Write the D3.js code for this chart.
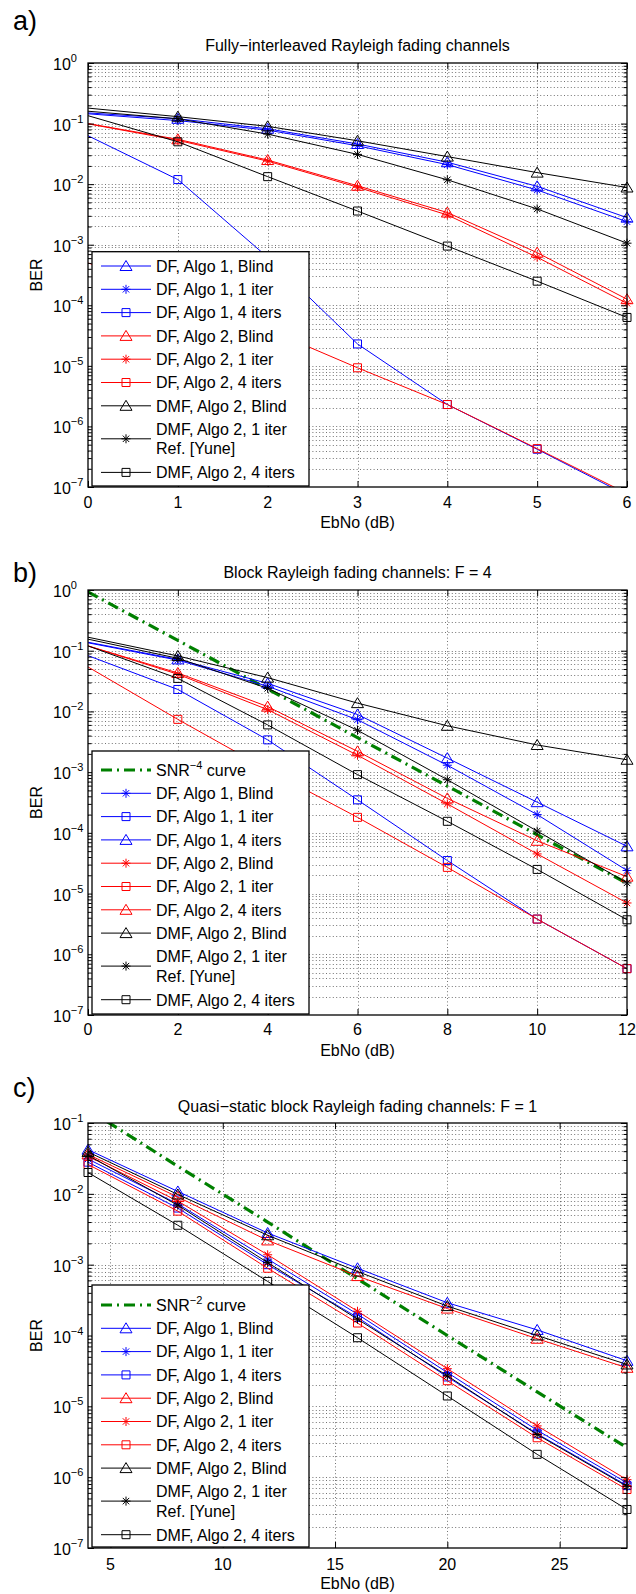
<!DOCTYPE html>
<html><head><meta charset="utf-8">
<script src="https://cdn.jsdelivr.net/npm/d3@7"></script>
<style>
body{margin:0;background:#fff}
svg{display:block}
text{font-family:"Liberation Sans",Arial,Helvetica,sans-serif;fill:#000}
</style>
</head><body>
<svg id="chart" width="636" height="1594"></svg>
<script>
// ---------------- DATA ----------------
// Panel a: Fully-interleaved Rayleigh fading channels
const xA = [0, 1, 2, 3, 4, 5, 6];
const xTicksA = [0, 1, 2, 3, 4, 5, 6];
const a_df1_blind = [0.15, 0.12, 0.082, 0.046, 0.023, 0.0092, 0.0028];
const a_df1_1it   = [0.145, 0.112, 0.078, 0.043, 0.021, 0.008, 0.0024];
const a_df1_4it   = [0.063, 0.0119, 0.00062, 0.000023, 0.0000023, 0.00000042, 0.000000073];
const a_df2_blind = [0.1, 0.055, 0.025, 0.0094, 0.0034, 0.00074, 0.000126];
const a_df2_1it   = [0.099, 0.053, 0.024, 0.0089, 0.0031, 0.00062, 0.000108];
const a_df2_4it   = [0.0005, 0.00016, 0.00004, 0.0000093, 0.0000023, 0.00000043, 0.000000078];
const a_dmf_blind = [0.18, 0.13, 0.09, 0.052, 0.0285, 0.0155, 0.0088];
const a_dmf_1it   = [0.16, 0.12, 0.067, 0.031, 0.0118, 0.0039, 0.00106];
const a_dmf_4it   = [0.135, 0.05, 0.0133, 0.0036, 0.00095, 0.00025, 0.000063];
const legendA = ["DF, Algo 1, Blind", "DF, Algo 1, 1 iter", "DF, Algo 1, 4 iters",
  "DF, Algo 2, Blind", "DF, Algo 2, 1 iter", "DF, Algo 2, 4 iters",
  "DMF, Algo 2, Blind", "DMF, Algo 2, 1 iter\nRef. [Yune]", "DMF, Algo 2, 4 iters"];

// Panel b: Block Rayleigh fading channels: F = 4
const xB = [0, 2, 4, 6, 8, 10, 12];
const xTicksB = [0, 2, 4, 6, 8, 10, 12];
const b_snr4      = [0.93, 0.148, 0.0234, 0.0037, 0.00059, 0.000093, 0.0000148];
const b_df1_blind = [0.135, 0.07, 0.026, 0.0073, 0.0013, 0.0002, 0.000024];
const b_df1_1it   = [0.083, 0.023, 0.0034, 0.00035, 0.000035, 0.0000038, 0.00000058];
const b_df1_4it   = [0.138, 0.072, 0.029, 0.0089, 0.0017, 0.00032, 0.00006];
const b_df2_blind = [0.12, 0.041, 0.0107, 0.0019, 0.0003, 0.000045, 0.000007];
const b_df2_1it   = [0.054, 0.0074, 0.0011, 0.00018, 0.000027, 0.0000038, 0.00000058];
const b_df2_4it   = [0.12, 0.043, 0.012, 0.0022, 0.00037, 0.000074, 0.000019];
const b_dmf_blind = [0.167, 0.082, 0.036, 0.0137, 0.0058, 0.0028, 0.0016];
const b_dmf_1it   = [0.155, 0.075, 0.024, 0.0049, 0.00075, 0.000107, 0.000015];
const b_dmf_4it   = [0.12, 0.035, 0.006, 0.00091, 0.000155, 0.000025, 0.0000037];
const legendB = ["SNR^−4 curve", "DF, Algo 1, Blind", "DF, Algo 1, 1 iter", "DF, Algo 1, 4 iters",
  "DF, Algo 2, Blind", "DF, Algo 2, 1 iter", "DF, Algo 2, 4 iters",
  "DMF, Algo 2, Blind", "DMF, Algo 2, 1 iter\nRef. [Yune]", "DMF, Algo 2, 4 iters"];

// Panel c: Quasi-static block Rayleigh fading channels: F = 1
const xC = [4, 8, 12, 16, 20, 24, 28];
const xTicksC = [5, 10, 15, 20, 25];
const c_snr2      = [0.155, 0.0245, 0.004, 0.00063, 0.0001, 0.000016, 0.0000026];
const c_df1_blind = [0.042, 0.0108, 0.0028, 0.00089, 0.00029, 0.00012, 0.000044];
const c_df1_1it   = [0.031, 0.0072, 0.0012, 0.0002, 0.00003, 0.0000046, 0.00000083];
const c_df1_4it   = [0.028, 0.0063, 0.001, 0.00018, 0.000026, 0.0000041, 0.00000076];
const c_df2_blind = [0.036, 0.009, 0.0022, 0.00069, 0.00024, 0.00009, 0.000035];
const c_df2_1it   = [0.034, 0.0079, 0.00138, 0.00022, 0.000034, 0.0000053, 0.00000092];
const c_df2_4it   = [0.026, 0.0057, 0.00089, 0.00015, 0.000023, 0.0000036, 0.00000067];
const c_dmf_blind = [0.039, 0.0098, 0.0026, 0.0008, 0.00026, 0.0001, 0.000039];
const c_dmf_1it   = [0.035, 0.0069, 0.00107, 0.00017, 0.000027, 0.000004, 0.00000074];
const c_dmf_4it   = [0.02, 0.0036, 0.00058, 0.000093, 0.000014, 0.0000021, 0.00000035];
const legendC = ["SNR^−2 curve", "DF, Algo 1, Blind", "DF, Algo 1, 1 iter", "DF, Algo 1, 4 iters",
  "DF, Algo 2, Blind", "DF, Algo 2, 1 iter", "DF, Algo 2, 4 iters",
  "DMF, Algo 2, Blind", "DMF, Algo 2, 1 iter\nRef. [Yune]", "DMF, Algo 2, 4 iters"];

// ---------------- STYLES ----------------
const BLUE = "#0000ff", RED = "#ff0000", BLACK = "#000000", GREEN = "#008000";
const FS = 16;

const panels = [
  {
    letter: "a)", letterY: 30, title: "Fully−interleaved Rayleigh fading channels", titleY: 51,
    top: 63, bottom: 487, x: xA, xDomain: [0, 6], xTicks: xTicksA, yExp: [-7, 0],
    tickY: 508, xlabelY: 528, edgeMarkers: false,
    legend: { labels: legendA, top: 251.7, first: 266, twoLine: 7 },
    series: [
      { v: a_df1_blind, c: BLUE, m: "tri" }, { v: a_df1_1it, c: BLUE, m: "star" }, { v: a_df1_4it, c: BLUE, m: "sq" },
      { v: a_df2_blind, c: RED, m: "tri" }, { v: a_df2_1it, c: RED, m: "star" }, { v: a_df2_4it, c: RED, m: "sq" },
      { v: a_dmf_blind, c: BLACK, m: "tri" }, { v: a_dmf_1it, c: BLACK, m: "star" }, { v: a_dmf_4it, c: BLACK, m: "sq" }
    ]
  },
  {
    letter: "b)", letterY: 582, title: "Block Rayleigh fading channels: F = 4", titleY: 578,
    top: 590, bottom: 1015, x: xB, xDomain: [0, 12], xTicks: xTicksB, yExp: [-7, 0],
    tickY: 1035, xlabelY: 1056, edgeMarkers: false,
    legend: { labels: legendB, top: 751, first: 770, twoLine: 8 },
    series: [
      { v: b_snr4, c: GREEN, m: "none", green: true },
      { v: b_df1_blind, c: BLUE, m: "star" }, { v: b_df1_1it, c: BLUE, m: "sq" }, { v: b_df1_4it, c: BLUE, m: "tri" },
      { v: b_df2_blind, c: RED, m: "star" }, { v: b_df2_1it, c: RED, m: "sq" }, { v: b_df2_4it, c: RED, m: "tri" },
      { v: b_dmf_blind, c: BLACK, m: "tri" }, { v: b_dmf_1it, c: BLACK, m: "star" }, { v: b_dmf_4it, c: BLACK, m: "sq" }
    ]
  },
  {
    letter: "c)", letterY: 1097, title: "Quasi−static block Rayleigh fading channels: F = 1", titleY: 1112,
    top: 1123, bottom: 1548, x: xC, xDomain: [4, 28], xTicks: xTicksC, yExp: [-7, -1],
    tickY: 1570, xlabelY: 1589, edgeMarkers: true,
    legend: { labels: legendC, top: 1285, first: 1305, twoLine: 8 },
    series: [
      { v: c_snr2, c: GREEN, m: "none", green: true },
      { v: c_df1_blind, c: BLUE, m: "tri" }, { v: c_df1_1it, c: BLUE, m: "star" }, { v: c_df1_4it, c: BLUE, m: "sq" },
      { v: c_df2_blind, c: RED, m: "tri" }, { v: c_df2_1it, c: RED, m: "star" }, { v: c_df2_4it, c: RED, m: "sq" },
      { v: c_dmf_blind, c: BLACK, m: "tri" }, { v: c_dmf_1it, c: BLACK, m: "star" }, { v: c_dmf_4it, c: BLACK, m: "sq" }
    ]
  }
];

const LEFT = 88, RIGHT = 627;

function markerPath(m) {
  if (m === "tri") return "M0,-5.5L6,4.5L-6,4.5Z";
  if (m === "sq") return "M-4,-4L4,-4L4,4L-4,4Z";
  if (m === "star") {
    const r = 4.5, d = 3.2;
    return `M${-r},0L${r},0M0,${-r}L0,${r}M${-d},${-d}L${d},${d}M${-d},${d}L${d},${-d}`;
  }
  return "";
}

const svg = d3.select("#chart");

function supText(sel, text, supSize) {
  const m = text.match(/^(.*)\^(\S+)(.*)$/);
  if (!m) { sel.text(text); return; }
  sel.append("tspan").text(m[1]);
  sel.append("tspan").attr("dy", -7).attr("font-size", supSize).text(m[2]);
  sel.append("tspan").attr("dy", 7).text(m[3]);
}

panels.forEach((p, pi) => {
  const g = svg.append("g");
  const x = d3.scaleLinear().domain(p.xDomain).range([LEFT, RIGHT]);
  const y = d3.scaleLog().domain([Math.pow(10, p.yExp[0]), Math.pow(10, p.yExp[1])]).range([p.bottom, p.top]);

  g.append("text").attr("x", 13).attr("y", p.letterY).attr("font-size", 27).text(p.letter);
  g.append("text").attr("x", (LEFT + RIGHT) / 2).attr("y", p.titleY).attr("text-anchor", "middle")
    .attr("font-size", FS).text(p.title);

  const majors = d3.range(p.yExp[0], p.yExp[1] + 1).map(e => Math.pow(10, e));
  const minors = [];
  for (let e = p.yExp[0]; e < p.yExp[1]; e++) for (let k = 2; k <= 9; k++) minors.push(k * Math.pow(10, e));
  const hGrid = majors.slice(1, -1).concat(minors);
  const vGrid = p.xTicks.filter(t => t > p.xDomain[0] && t < p.xDomain[1]);

  const grid = g.append("g").attr("stroke", "#000").attr("stroke-width", 1)
    .attr("stroke-dasharray", "1,2.4").attr("stroke-opacity", 0.55).attr("fill", "none");
  grid.selectAll("line.h").data(hGrid).join("line").attr("class", "h")
    .attr("x1", LEFT).attr("x2", RIGHT)
    .attr("y1", d => Math.round(y(d)) + 0.5).attr("y2", d => Math.round(y(d)) + 0.5);
  grid.selectAll("line.v").data(vGrid).join("line").attr("class", "v")
    .attr("y1", p.top).attr("y2", p.bottom)
    .attr("x1", d => Math.round(x(d)) + 0.5).attr("x2", d => Math.round(x(d)) + 0.5);

  const clipId = "clip" + pi;
  svg.append("clipPath").attr("id", clipId).append("rect")
    .attr("x", LEFT).attr("y", p.top).attr("width", RIGHT - LEFT).attr("height", p.bottom - p.top);

  const line = d3.line().x((d, i) => x(p.x[i])).y(d => y(d));
  const plot = g.append("g");
  p.series.forEach(s => {
    plot.append("path").attr("d", line(s.v)).attr("clip-path", `url(#${clipId})`)
      .attr("fill", "none").attr("stroke", s.c)
      .attr("stroke-width", s.green ? 3.2 : 1)
      .attr("stroke-dasharray", s.green ? "11,5,2,5" : null);
    if (s.m !== "none") {
      const pts = s.v.map((v, i) => [p.x[i], v]).filter(([xv, v]) =>
        (p.edgeMarkers ? xv >= p.xDomain[0] : xv > p.xDomain[0]) && xv <= p.xDomain[1] &&
        v >= Math.pow(10, p.yExp[0]) && v <= Math.pow(10, p.yExp[1]));
      plot.selectAll(null).data(pts).join("path")
        .attr("transform", d => `translate(${x(d[0])},${y(d[1])})`)
        .attr("d", markerPath(s.m)).attr("fill", "none").attr("stroke", s.c).attr("stroke-width", 1);
    }
  });

  const axG = g.append("g");
  const styleAxis = sel => { sel.select(".domain").remove(); sel.selectAll("line").attr("stroke", "#000").attr("stroke-width", 1); sel.selectAll("text").remove(); };
  axG.append("g").attr("transform", `translate(0,${p.bottom})`)
    .call(d3.axisBottom(x).tickValues(p.xTicks).tickSize(-6).tickFormat("")).call(styleAxis);
  axG.append("g").attr("transform", `translate(0,${p.top})`)
    .call(d3.axisTop(x).tickValues(p.xTicks).tickSize(-6).tickFormat("")).call(styleAxis);
  axG.append("g").attr("transform", `translate(${LEFT},0)`)
    .call(d3.axisLeft(y).tickValues(majors).tickSize(-6).tickFormat("")).call(styleAxis);
  axG.append("g").attr("transform", `translate(${LEFT},0)`)
    .call(d3.axisLeft(y).tickValues(minors).tickSize(-3.5).tickFormat("")).call(styleAxis);
  axG.append("g").attr("transform", `translate(${RIGHT},0)`)
    .call(d3.axisRight(y).tickValues(majors).tickSize(-6).tickFormat("")).call(styleAxis);
  axG.append("g").attr("transform", `translate(${RIGHT},0)`)
    .call(d3.axisRight(y).tickValues(minors).tickSize(-3.5).tickFormat("")).call(styleAxis);

  g.append("rect").attr("x", LEFT).attr("y", p.top).attr("width", RIGHT - LEFT).attr("height", p.bottom - p.top)
    .attr("fill", "none").attr("stroke", "#000").attr("stroke-width", 1.3);

  g.selectAll("text.xt").data(p.xTicks).join("text").attr("class", "xt")
    .attr("x", d => x(d)).attr("y", p.tickY).attr("text-anchor", "middle").attr("font-size", FS).text(d => d);
  majors.forEach(v => {
    const e = Math.round(Math.log10(v));
    const t = g.append("text").attr("x", 53).attr("y", y(v) + 7).attr("font-size", FS);
    t.append("tspan").text("10");
    t.append("tspan").attr("dy", -8).attr("font-size", 11).text(e === 0 ? "0" : "−" + (-e));
  });

  g.append("text").attr("x", (LEFT + RIGHT) / 2).attr("y", p.xlabelY).attr("text-anchor", "middle")
    .attr("font-size", FS).text("EbNo (dB)");
  g.append("text").attr("transform", `translate(42,${(p.top + p.bottom) / 2}) rotate(-90)`)
    .attr("text-anchor", "middle").attr("font-size", FS).text("BER");

  const L = p.legend;
  const lx = 92, lr = 309;
  const lg = g.append("g");
  lg.append("rect").attr("x", lx).attr("y", L.top).attr("width", lr - lx).attr("height", p.bottom - 1 - L.top)
    .attr("fill", "#fff").attr("stroke", "#000").attr("stroke-width", 1.3);
  L.labels.forEach((lab, i) => {
    const s = p.series[i];
    const rowY = L.first + 23.3 * i + (i > L.twoLine ? 20 : 0);
    const lines = lab.split("\n");
    const cy = lines.length > 1 ? rowY + 9.7 : rowY;
    lg.append("line").attr("x1", lx + 9).attr("x2", lx + 59).attr("y1", cy).attr("y2", cy)
      .attr("stroke", s.c).attr("stroke-width", s.green ? 3.2 : 1)
      .attr("stroke-dasharray", s.green ? "11,5,2,5" : null);
    if (s.m !== "none") {
      lg.append("path").attr("transform", `translate(${lx + 34},${cy})`).attr("d", markerPath(s.m))
        .attr("fill", "none").attr("stroke", s.c).attr("stroke-width", 1);
    }
    lines.forEach((ln, j) => {
      const t = lg.append("text").attr("x", lx + 64).attr("y", rowY + 19.3 * j + 5.8).attr("font-size", FS);
      supText(t, ln, 11);
    });
  });
});
</script>
</body></html>
